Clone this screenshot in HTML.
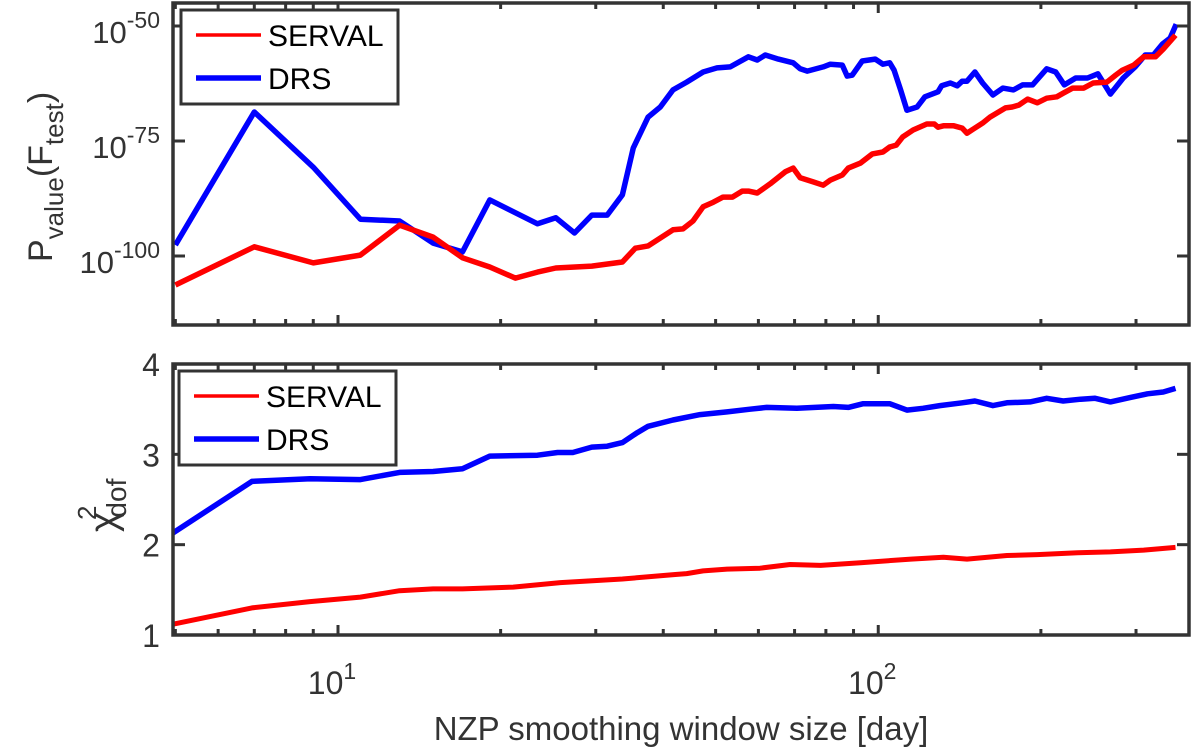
<!DOCTYPE html>
<html><head><meta charset="utf-8"><style>
html,body{margin:0;padding:0;background:#fff;}
svg{display:block;font-family:"Liberation Sans",sans-serif;}
</style></head><body>
<svg id="chart" width="1200" height="750" viewBox="0 0 1200 750" xmlns="http://www.w3.org/2000/svg"></svg>
<script>
// Shared x-axis (days), log scale
const xTickValues = [10, 100];
const xTickLabels = ["1", "2"];
// Top panel: log10(P-value) exponents
const topServalDays = [5.0,7.0,9.0,11,13,15,17,19.1,21.3,23.4,25.3,29.5,33.6,35.5,37.5,41.7,43.5,45.4,47.4,49.5,51.6,53.7,56.0,57.5,59.7,63.1,67.3,69.6,71.7,75.8,79.1,81.5,85.8,88.0,92.7,97.5,102,105,108,111,116,123,127,129,132,138,143,146,150,156,161,172,177,182,189,197,205,214,220,229,240,250,265,275,283,297,310,326,337,355];
const topServalExp = [-106.3,-98,-101.5,-99.8,-93.3,-95.9,-100.4,-102.4,-104.8,-103.5,-102.6,-102.2,-101.3,-98.3,-97.8,-94.3,-94.1,-92.4,-89.3,-88.3,-87.2,-87.2,-85.9,-85.9,-86.3,-84.3,-81.7,-80.9,-83,-83.9,-84.6,-83.5,-82.4,-80.9,-79.8,-77.8,-77.4,-76.3,-75.9,-74.1,-72.6,-71.3,-71.3,-72,-71.7,-71.7,-72.2,-73.3,-72.4,-71.1,-69.8,-67.8,-67.6,-67.2,-65.9,-66.7,-65.7,-65.4,-64.6,-63.5,-63.5,-62.4,-62.2,-60.7,-59.6,-58.5,-56.7,-56.7,-55,-52];
const topDrsDays = [5.0,7.0,9.0,11,13,15,17,19.1,23.4,25.3,27.4,29.5,31.5,33.6,35.2,37.5,39.5,41.7,44.2,47.4,50.3,53.2,57.5,59.7,61.8,65.3,69.6,71.7,73.9,79.1,81.5,85.8,87.6,89.5,93.4,98.7,102,105,107,110,113,118,122,129,131,136,140,143,146,151,156,163,170,178,185,193,205,213,221,232,244,255,269,284,299,312,323,336,347,356];
const topDrsExp = [-97.6,-68.7,-80.7,-92,-92.4,-97.2,-99.1,-87.8,-93,-91.7,-95,-91.1,-91.1,-86.7,-76.5,-69.8,-67.6,-63.9,-62.2,-60,-59.1,-58.9,-56.7,-57.4,-56.3,-57.2,-58,-59.3,-59.8,-58.9,-58.3,-58.5,-60.9,-60.7,-57.6,-57.2,-58.3,-58,-59.6,-63.9,-68.3,-67.6,-65.4,-64.3,-63,-62.4,-63,-62,-62,-60,-62.4,-65,-63.5,-63.9,-62.8,-62.8,-59.3,-60,-62.8,-61.3,-61.3,-60.4,-64.8,-61.3,-58.9,-56.3,-56.3,-53.9,-52.6,-49.6];
const topTickExp = [-50, -75, -100];
// Bottom panel: reduced chi-square
const botServalDays = [4.95,6.93,8.88,11,13,15,17,21.1,25.8,33.6,42.1,44.2,47.4,52.5,60.4,68.7,78.2,92.7,115,132,146,173,197,234,269,310,355];
const botServalChi = [1.12,1.30,1.37,1.42,1.49,1.51,1.51,1.53,1.58,1.62,1.67,1.68,1.71,1.73,1.74,1.78,1.77,1.80,1.84,1.86,1.84,1.88,1.89,1.91,1.92,1.94,1.97];
const botDrsDays = [4.95,6.93,8.88,11,13,15,17,19.1,23.4,25.5,27.2,29.5,31.5,33.6,35.8,37.5,41.7,46.8,52.5,57.9,62.2,70.7,82.6,88,93.8,105,113,121,130,143,151,163,173,191,205,220,237,252,269,293,315,337,355];
const botDrsChi = [2.13,2.70,2.73,2.72,2.80,2.81,2.84,2.98,2.99,3.02,3.02,3.08,3.09,3.13,3.24,3.31,3.38,3.44,3.47,3.50,3.52,3.51,3.53,3.52,3.56,3.56,3.49,3.51,3.54,3.57,3.59,3.54,3.57,3.58,3.62,3.59,3.61,3.62,3.58,3.63,3.67,3.69,3.73];
const botTicks = [1,2,3,4];
const legendNames = ["SERVAL", "DRS"];

const NS = "http://www.w3.org/2000/svg";
const svg = document.getElementById("chart");
const L = 173, R = 1189;
const xMin = 4.95, xMax = 376;
function xs(d){ return L + (Math.log10(d) - Math.log10(xMin)) / (Math.log10(xMax) - Math.log10(xMin)) * (R - L); }
const T1 = 3, B1 = 325, eTop = -45.0, eBot = -115.0;
function ys1(e){ return T1 + (eTop - e) / (eTop - eBot) * (B1 - T1); }
const T2 = 364, B2 = 635;
function ys2(v){ return T2 + (4 - v) / 3 * (B2 - T2); }

function mk(tag, attrs, parent){
  const el = document.createElementNS(NS, tag);
  for (const k in attrs) el.setAttribute(k, attrs[k]);
  (parent || svg).appendChild(el);
  return el;
}
function line(days, vals, yf, color, w, name, g){
  const pts = days.map((d,i)=> xs(d).toFixed(1)+","+yf(vals[i]).toFixed(1)).join(" ");
  const p = mk("polyline", {points:pts, fill:"none", stroke:color, "stroke-width":w, "stroke-linejoin":"round"}, g);
  
  
}
function xMinorTicks(T, B, g){
  for (let dec = 1; dec <= 100; dec *= 10){
    for (let k = 1; k <= 9; k++){
      const d = dec * k;
      if (d < xMin || d > xMax) continue;
      const x = xs(d); const len = (k === 1) ? 10 : 6;
      mk("line", {x1:x, x2:x, y1:B, y2:B-len, stroke:"#333", "stroke-width":3}, g);
      mk("line", {x1:x, x2:x, y1:T, y2:T+len, stroke:"#333", "stroke-width":3}, g);
    }
  }
}
function legend(x, y, g){
  const lg = mk("g", {}, g);
  
  
  mk("rect", {x:x, y:y, width:217, height:94, fill:"#fff", stroke:"#333", "stroke-width":3}, lg);
  const cols = ["#ff0000", "#0000ff"], ws = [3.5, 5.5];
  legendNames.forEach((n,i)=>{
    const e = mk("g", {}, lg);
    
    
    const ly = y + 25 + i*43;
    mk("line", {x1:x+15, x2:x+80, y1:ly, y2:ly, stroke:cols[i], "stroke-width":ws[i]}, e);
    const t = mk("text", {x:x+87, y:ly+11, "font-size":30, fill:"#000"}, e);
    t.textContent = n;
  });
}

// Top panel
const g1 = mk("g", {});


line(topDrsDays, topDrsExp, ys1, "#0000ff", 5.5, "drs-pvalue-line", g1);
line(topServalDays, topServalExp, ys1, "#ff0000", 5.5, "serval-pvalue-line", g1);
mk("rect", {x:L, y:T1, width:R-L, height:B1-T1, fill:"none", stroke:"#333", "stroke-width":3.5}, g1);
xMinorTicks(T1, B1, g1);
topTickExp.forEach(e=>{
  const y = ys1(e);
  mk("line", {x1:L, x2:L+12, y1:y, y2:y, stroke:"#333", "stroke-width":3}, g1);
  mk("line", {x1:R, x2:R-12, y1:y, y2:y, stroke:"#333", "stroke-width":3}, g1);
  const t = mk("text", {x:160, y:y+17, "font-size":31, fill:"#333", "text-anchor":"end"}, g1);
  
  
  t.innerHTML = '10<tspan dy="-15" font-size="23">' + e + '</tspan>';
});
legend(181, 10, g1);
const yt1 = mk("text", {transform:"translate(52,262) rotate(-90)", "font-size":34, fill:"#333"}, g1);


yt1.innerHTML = 'P<tspan dy="11" font-size="26">value</tspan><tspan dy="-11">(F</tspan><tspan dy="11" font-size="26">test</tspan><tspan dy="-11">)</tspan>';

// Bottom panel
const g2 = mk("g", {});


line(botDrsDays, botDrsChi, ys2, "#0000ff", 5.5, "drs-chi2-line", g2);
line(botServalDays, botServalChi, ys2, "#ff0000", 5, "serval-chi2-line", g2);
mk("rect", {x:L, y:T2, width:R-L, height:B2-T2, fill:"none", stroke:"#333", "stroke-width":3.5}, g2);
xMinorTicks(T2, B2, g2);
botTicks.forEach(v=>{
  const y = ys2(v);
  mk("line", {x1:L, x2:L+12, y1:y, y2:y, stroke:"#333", "stroke-width":3}, g2);
  mk("line", {x1:R, x2:R-12, y1:y, y2:y, stroke:"#333", "stroke-width":3}, g2);
  const t = mk("text", {x:151, y:y+12, "font-size":32, fill:"#333", "text-anchor":"middle"}, g2);
  
  
  t.textContent = v;
});
legend(179, 371, g2);
const yt2 = mk("text", {transform:"translate(116,532) rotate(-90)", "font-size":38, fill:"#333"}, g2);


yt2.innerHTML = 'χ<tspan dy="-20" dx="-8" font-size="26">2</tspan><tspan dy="30" dx="-12" font-size="28">dof</tspan>';

// X tick labels
xTickValues.forEach((d,i)=>{
  const t = mk("text", {x:xs(d)-6, y:694, "font-size":32, fill:"#333", "text-anchor":"middle"});
  
  
  t.innerHTML = '10<tspan dy="-15" font-size="23">' + xTickLabels[i] + '</tspan>';
});
const xt = mk("text", {x:681, y:740, "font-size":33, fill:"#333", "text-anchor":"middle"});


xt.textContent = "NZP smoothing window size [day]";
</script>
</body></html>
